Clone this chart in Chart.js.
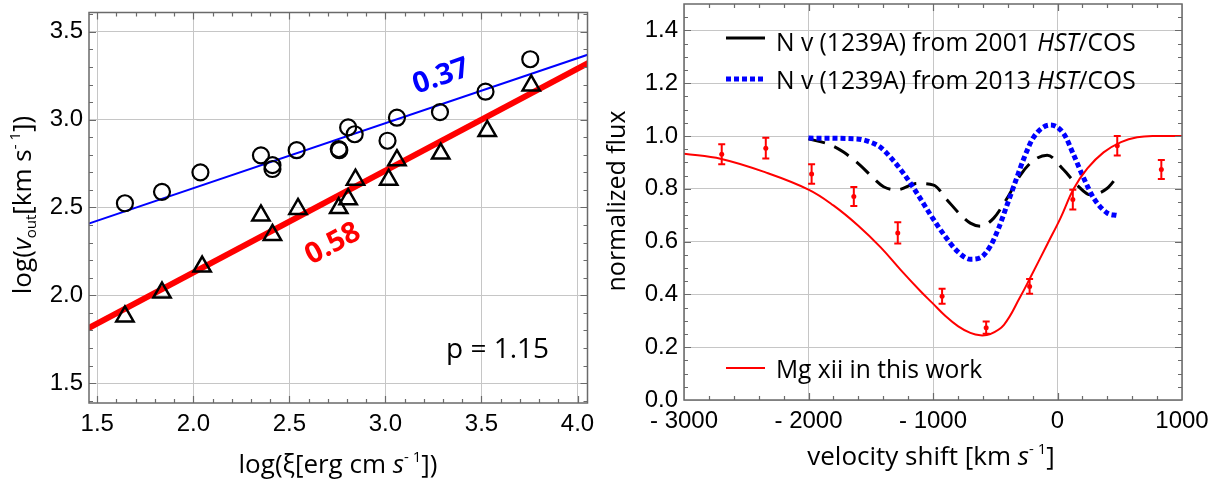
<!DOCTYPE html>
<html>
<head>
<meta charset="utf-8">
<script src="https://cdn.jsdelivr.net/npm/chart.js@4.4.1/dist/chart.umd.min.js"></script>
<style>
  html, body { margin: 0; padding: 0; background: #fff; }
  #wrap { position: relative; width: 1225px; height: 487px; }
  #wrap canvas { position: absolute; top: 0; }
  #outflowChart { left: 0; }
  #profileChart { left: 600px; }
</style>
</head>
<body>
<div id="wrap">
  <canvas id="outflowChart" width="600" height="487"></canvas>
  <canvas id="profileChart" width="625" height="487"></canvas>
</div>
<script>
// ---- left panel: log(xi) vs log(v_out) ----
const circleXi = [1.644, 1.837, 2.037, 2.352, 2.412, 2.412, 2.538, 2.757, 2.760, 2.806, 2.840, 3.011, 3.060, 3.284, 3.521, 3.754];
const circleV  = [2.524, 2.589, 2.700, 2.797, 2.741, 2.719, 2.826, 2.833, 2.826, 2.956, 2.917, 2.880, 3.011, 3.043, 3.159, 3.344];
const triangleXi = [1.644, 1.837, 2.046, 2.352, 2.412, 2.545, 2.757, 2.806, 2.844, 3.017, 3.060, 3.288, 3.530, 3.759];
const triangleV  = [1.880, 2.016, 2.164, 2.455, 2.344, 2.492, 2.497, 2.547, 2.658, 2.658, 2.769, 2.807, 2.936, 3.195];
const fitSlope = [0.37, 0.58];
const fitIntercept = [1.87, 0.97];
const fitRange = [1.40, 4.10];
const xiTicks = [1.5, 2.0, 2.5, 3.0, 3.5, 4.0];
const logvTicks = [1.5, 2.0, 2.5, 3.0, 3.5];

// ---- right panel: absorption profiles ----
const binVel  = [-2697, -2343, -1975, -1636, -1283, -927, -573, -224, 123, 480, 834];
const binFlux = [0.931, 0.954, 0.856, 0.771, 0.633, 0.393, 0.274, 0.430, 0.759, 0.963, 0.873];
const binErr  = [0.038, 0.039, 0.037, 0.036, 0.040, 0.028, 0.023, 0.028, 0.037, 0.037, 0.036];
const mgVel  = [-3000, -2700, -2350, -2000, -1800, -1600, -1420, -1260, -1100, -1000, -900, -800, -700, -620, -540, -430, -300, -220, -80, 25, 130, 240, 370, 510, 640, 800, 1000];
const mgFlux = [0.933, 0.913, 0.863, 0.797, 0.737, 0.660, 0.578, 0.493, 0.412, 0.365, 0.318, 0.280, 0.254, 0.245, 0.250, 0.285, 0.390, 0.462, 0.592, 0.690, 0.800, 0.877, 0.938, 0.977, 0.995, 1.0, 1.0];
const nv2001Vel  = [-2000, -1826, -1719, -1584, -1504, -1397, -1290, -1128, -995, -887, -780, -700, -619, -512, -405, -298, -191, -83, 51, 158, 265, 400, 480];
const nv2001Flux = [0.989, 0.967, 0.939, 0.889, 0.852, 0.808, 0.796, 0.820, 0.814, 0.758, 0.702, 0.670, 0.658, 0.689, 0.764, 0.852, 0.908, 0.927, 0.871, 0.814, 0.777, 0.802, 0.846];
const nv2013Vel  = [-2000, -1611, -1504, -1424, -1343, -1236, -1128, -1021, -913, -806, -700, -619, -539, -472, -405, -338, -271, -191, -56, 51, 131, 212, 292, 400, 480];
const nv2013Flux = [0.992, 0.989, 0.977, 0.958, 0.920, 0.858, 0.783, 0.702, 0.627, 0.564, 0.533, 0.539, 0.583, 0.652, 0.739, 0.827, 0.914, 0.996, 1.042, 1.008, 0.927, 0.839, 0.764, 0.708, 0.699];
const velTicks = [-3000, -2000, -1000, 0, 1000];
const velTickLabels = ['- 3000', '- 2000', '- 1000', '0', '1000'];
const fluxTicks = [0.0, 0.2, 0.4, 0.6, 0.8, 1.0, 1.2, 1.4];

const TICK_FONT = { family: '"Liberation Sans", Arial, sans-serif', size: 24 };
const SANS = '"Open Sans", "Noto Sans", sans-serif';
const FRAME = '#6a6a6a';
const GRID = '#c6c6c6';

function pts(xs, ys) {
    return xs.map((x, i) => ({x: x, y: ys[i]}));
}

function range(from, to, step) {
    let out = [];
    for (let v = from; v <= to + step / 1000; v += step) out.push(+v.toFixed(6));
    return out;
}

// text made of runs with their own font and vertical shift
function drawRuns(ctx, x, y, runs, align) {
    let w = 0;
    runs.forEach(r => { ctx.font = r[1]; w += ctx.measureText(r[0]).width; });
    let cx = align === 'center' ? x - w / 2 : (align === 'right' ? x - w : x);
    ctx.textAlign = 'left';
    ctx.textBaseline = 'alphabetic';
    runs.forEach(r => {
        ctx.font = r[1];
        ctx.fillText(r[0], cx, y + (r[2] || 0));
        cx += ctx.measureText(r[0]).width;
    });
}

// closed frame with inward ticks on all four sides
const frameTicks = {
    id: 'frameTicks',
    afterDraw(chart, args, opts) {
        const {ctx, chartArea: a, scales: {x, y}} = chart;
        const isMajor = (list, v) => list.some(m => Math.abs(m - v) < 1e-6);
        ctx.save();
        ctx.strokeStyle = FRAME;
        ctx.lineWidth = 1.2;
        ctx.beginPath();
        opts.xMinor.forEach(v => {
            const p = Math.round(x.getPixelForValue(v)) + 0.5;
            if (p <= a.left + 1 || p >= a.right - 1) return;
            const len = isMajor(opts.xMajor, v) ? 7 : 4;
            ctx.moveTo(p, a.bottom); ctx.lineTo(p, a.bottom - len);
            ctx.moveTo(p, a.top); ctx.lineTo(p, a.top + len);
        });
        opts.yMinor.forEach(v => {
            const p = Math.round(y.getPixelForValue(v)) + 0.5;
            if (p <= a.top + 1 || p >= a.bottom - 1) return;
            const len = isMajor(opts.yMajor, v) ? 7 : 4;
            ctx.moveTo(a.left, p); ctx.lineTo(a.left + len, p);
            ctx.moveTo(a.right, p); ctx.lineTo(a.right - len, p);
        });
        ctx.stroke();
        ctx.lineWidth = 1.5;
        ctx.strokeRect(a.left, a.top, a.right - a.left, a.bottom - a.top);
        ctx.restore();
    }
};

function fixedAxis(size, horizontal) {
    return function (scale) {
        if (horizontal) scale.height = size; else scale.width = size;
        scale.paddingLeft = 0; scale.paddingRight = 0;
        scale.paddingTop = 0; scale.paddingBottom = 0;
    };
}

function setTicks(values) {
    return function (scale) {
        scale.ticks = values.map(v => ({value: v}));
    };
}

// ---------------- left chart ----------------
const leftText = {
    id: 'leftText',
    afterDraw(chart) {
        const {ctx, scales: {x, y}} = chart;
        const F = '26px ' + SANS;
        const FI = 'italic 26px ' + SANS;
        const FS = '15px ' + SANS;
        ctx.save();
        ctx.fillStyle = '#000';
        drawRuns(ctx, 338, 473, [['log(\u03be[erg cm ', F], ['s', FI], ['- 1', FS, -11], ['])', F]], 'center');

        ctx.save();
        ctx.translate(31, 205);
        ctx.rotate(-Math.PI / 2);
        drawRuns(ctx, 0, 0, [['log(', F], ['v', FI], ['out', FS, 5], ['[km s', F], ['- 1', FS, -11], ['])', F]], 'center');
        ctx.restore();

        ctx.font = '28px ' + SANS;
        ctx.textAlign = 'left';
        ctx.fillText('p = 1.15', 446, 358);

        // slope labels along the two fits
        ctx.font = 'bold 29px ' + SANS;
        ctx.textAlign = 'center';
        ctx.textBaseline = 'middle';
        ctx.fillStyle = '#0000ff';
        ctx.save();
        ctx.translate(x.getPixelForValue(3.290), y.getPixelForValue(3.245));
        ctx.rotate(-19 * Math.PI / 180);
        ctx.fillText(fitSlope[0].toFixed(2), 0, 0);
        ctx.restore();
        ctx.fillStyle = '#ff0000';
        ctx.save();
        ctx.translate(x.getPixelForValue(2.727), y.getPixelForValue(2.292));
        ctx.rotate(-28 * Math.PI / 180);
        ctx.fillText(fitSlope[1].toFixed(2), 0, 0);
        ctx.restore();
        ctx.restore();
    }
};

new Chart(document.getElementById('outflowChart'), {
    type: 'scatter',
    data: {
        datasets: [
            {
                data: pts(circleXi, circleV),
                pointStyle: 'circle', pointRadius: 8,
                borderColor: '#000', backgroundColor: 'rgba(0,0,0,0)', borderWidth: 2.2
            },
            {
                data: pts(triangleXi, triangleV),
                pointStyle: 'triangle', pointRadius: 10,
                borderColor: '#000', backgroundColor: 'rgba(0,0,0,0)', borderWidth: 2.5
            },
            {
                data: fitRange.map(v => ({x: v, y: fitSlope[0] * v + fitIntercept[0]})),
                showLine: true, pointRadius: 0, borderColor: '#0000ff', borderWidth: 2, clip: 0
            },
            {
                data: fitRange.map(v => ({x: v, y: fitSlope[1] * v + fitIntercept[1]})),
                showLine: true, pointRadius: 0, borderColor: '#ff0000', borderWidth: 6, clip: 0
            }
        ]
    },
    options: {
        responsive: false,
        animation: false,
        events: [],
        layout: {padding: {top: 3, right: 10, left: 0, bottom: 0}},
        plugins: {
            legend: {display: false},
            tooltip: {enabled: false},
            frameTicks: {xMajor: xiTicks, xMinor: range(1.4, 4.1, 0.1), yMajor: logvTicks, yMinor: range(1.4, 3.6, 0.1)}
        },
        scales: {
            x: {
                type: 'linear', min: 1.457, max: 4.052,
                afterBuildTicks: setTicks(xiTicks),
                afterFit: fixedAxis(84, true),
                grid: {color: GRID, drawTicks: false},
                border: {display: false},
                ticks: {font: TICK_FONT, color: '#000', padding: 7, maxRotation: 0, autoSkip: false,
                        callback: v => v.toFixed(1)}
            },
            y: {
                type: 'linear', min: 1.387, max: 3.61,
                afterBuildTicks: setTicks(logvTicks),
                afterFit: fixedAxis(89, false),
                grid: {color: GRID, drawTicks: false},
                border: {display: false},
                ticks: {font: TICK_FONT, color: '#000', padding: 6, autoSkip: false,
                        callback: v => v.toFixed(1)}
            }
        }
    },
    plugins: [frameTicks, leftText]
});

// ---------------- right chart ----------------
const errorBars = {
    id: 'errorBars',
    afterDatasetsDraw(chart) {
        const {ctx, scales: {x, y}} = chart;
        ctx.save();
        ctx.strokeStyle = '#ff0000';
        ctx.lineWidth = 2;
        ctx.beginPath();
        binVel.forEach((v, i) => {
            const px = x.getPixelForValue(v);
            const top = y.getPixelForValue(binFlux[i] + binErr[i]);
            const bot = y.getPixelForValue(binFlux[i] - binErr[i]);
            ctx.moveTo(px, top); ctx.lineTo(px, bot);
            ctx.moveTo(px - 3.5, top); ctx.lineTo(px + 3.5, top);
            ctx.moveTo(px - 3.5, bot); ctx.lineTo(px + 3.5, bot);
        });
        ctx.stroke();
        ctx.restore();
    }
};

const rightText = {
    id: 'rightText',
    afterDraw(chart) {
        const {ctx} = chart;
        const F = '26px ' + SANS;
        const FI = 'italic 26px ' + SANS;
        const FS = '15px ' + SANS;
        const L = '24.6px ' + SANS;
        const LI = 'italic 24.6px ' + SANS;
        ctx.save();
        ctx.fillStyle = '#000';
        drawRuns(ctx, 331, 465, [['velocity shift [km ', F], ['s', FI], ['- 1', FS, -11], [']', F]], 'center');

        ctx.save();
        ctx.translate(25, 201);
        ctx.rotate(-Math.PI / 2);
        drawRuns(ctx, 0, 0, [['normalized flux', '25px ' + SANS]], 'center');
        ctx.restore();

        // legend
        ctx.lineCap = 'butt';
        ctx.strokeStyle = '#000';
        ctx.lineWidth = 3;
        ctx.beginPath(); ctx.moveTo(126, 38); ctx.lineTo(165, 38); ctx.stroke();
        ctx.strokeStyle = '#0000ff';
        ctx.lineWidth = 5;
        ctx.setLineDash([5, 3]);
        ctx.beginPath(); ctx.moveTo(126, 79); ctx.lineTo(165, 79); ctx.stroke();
        ctx.setLineDash([]);
        ctx.strokeStyle = '#ff0000';
        ctx.lineWidth = 2;
        ctx.beginPath(); ctx.moveTo(126, 368); ctx.lineTo(165, 368); ctx.stroke();

        drawRuns(ctx, 176, 51, [['N v (1239A) from 2001 ', L], ['HST', LI], ['/COS', L]], 'left');
        drawRuns(ctx, 176, 89, [['N v (1239A) from 2013 ', L], ['HST', LI], ['/COS', L]], 'left');
        drawRuns(ctx, 176, 378, [['Mg xii in this work', L]], 'left');
        ctx.restore();
    }
};

new Chart(document.getElementById('profileChart'), {
    type: 'scatter',
    data: {
        datasets: [
            {
                data: pts(binVel, binFlux),
                pointStyle: 'circle', pointRadius: 2.5, borderWidth: 0,
                backgroundColor: '#ff0000'
            },
            {
                data: pts(mgVel, mgFlux),
                showLine: true, pointRadius: 0, borderColor: '#ff0000', borderWidth: 2,
                tension: 0.4, clip: 0
            },
            {
                data: pts(nv2013Vel, nv2013Flux),
                showLine: true, pointRadius: 0, borderColor: '#0000ff', borderWidth: 5,
                borderDash: [5, 3], cubicInterpolationMode: 'monotone', clip: 0
            },
            {
                data: pts(nv2001Vel, nv2001Flux),
                showLine: true, pointRadius: 0, borderColor: '#000', borderWidth: 3,
                borderDash: [17, 10], cubicInterpolationMode: 'monotone', clip: 0
            }
        ]
    },
    options: {
        responsive: false,
        animation: false,
        events: [],
        layout: {padding: {top: 1, right: 43, left: 0, bottom: 0}},
        plugins: {
            legend: {display: false},
            tooltip: {enabled: false},
            frameTicks: {xMajor: velTicks, xMinor: range(-3000, 1000, 200), yMajor: fluxTicks, yMinor: range(0, 1.5, 0.05)}
        },
        scales: {
            x: {
                type: 'linear', min: -3000, max: 1000,
                afterBuildTicks: setTicks(velTicks),
                afterFit: fixedAxis(87, true),
                grid: {color: GRID, drawTicks: false},
                border: {display: false},
                ticks: {font: TICK_FONT, color: '#000', padding: 7, maxRotation: 0, autoSkip: false,
                        callback: (v, i) => velTickLabels[i]}
            },
            y: {
                type: 'linear', min: 0, max: 1.5,
                afterBuildTicks: setTicks(fluxTicks),
                afterFit: fixedAxis(84, false),
                grid: {color: GRID, drawTicks: false},
                border: {display: false},
                ticks: {font: TICK_FONT, color: '#000', padding: 6, autoSkip: false,
                        callback: v => v.toFixed(1)}
            }
        }
    },
    plugins: [frameTicks, errorBars, rightText]
});
</script>
</body>
</html>
